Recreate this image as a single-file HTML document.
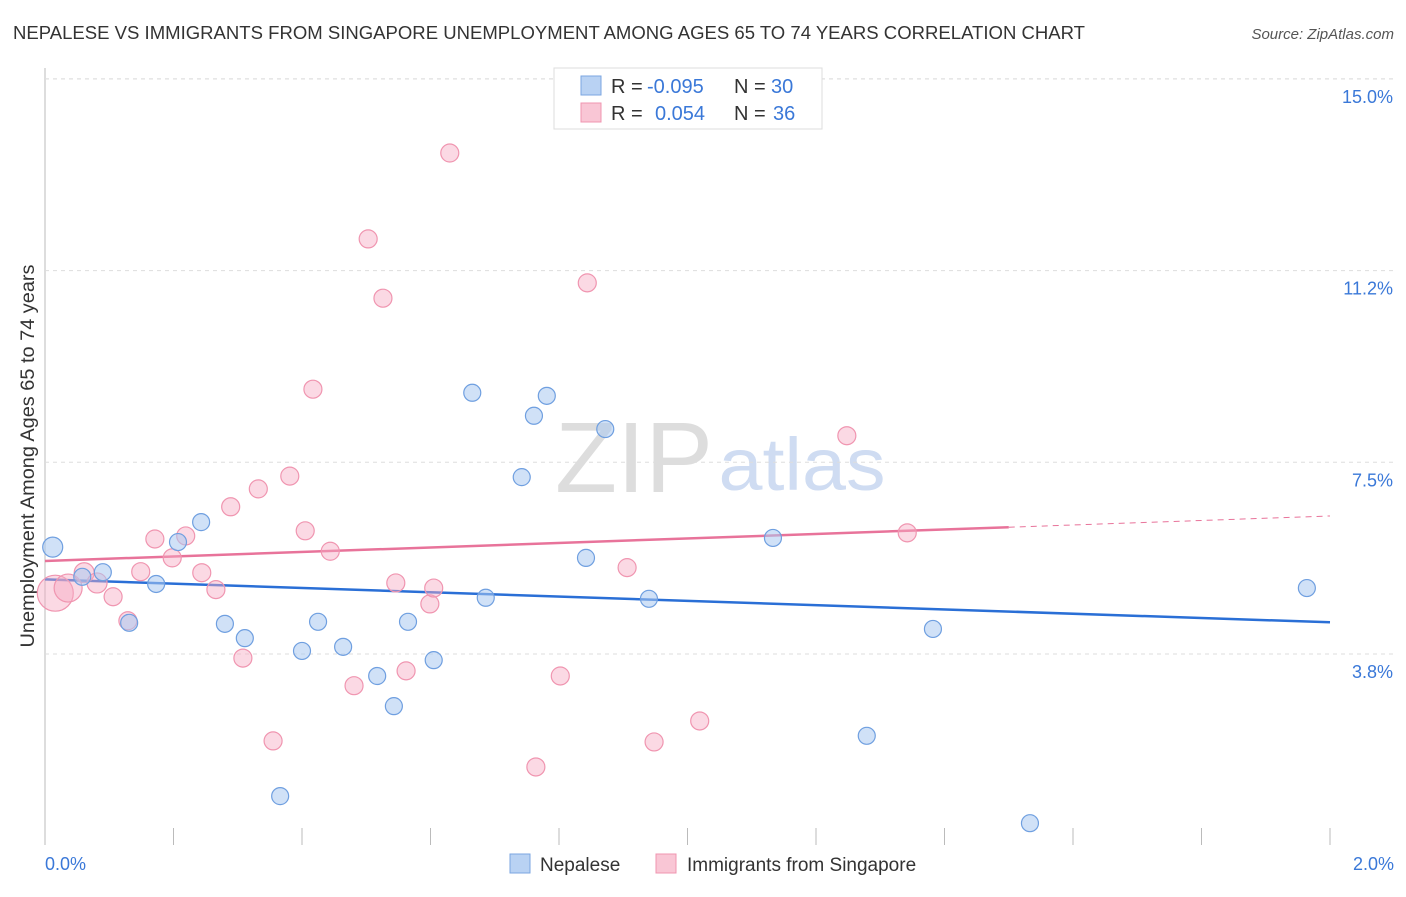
<!DOCTYPE html>
<html><head><meta charset="utf-8"><style>
body{margin:0;background:#fff;font-family:"Liberation Sans",sans-serif;}
svg text{font-family:"Liberation Sans",sans-serif;}
</style></head><body>
<svg id="chart" width="1406" height="892" xmlns="http://www.w3.org/2000/svg">
<text x="13" y="39" font-size="18" fill="#333" textLength="1072" lengthAdjust="spacingAndGlyphs">NEPALESE VS IMMIGRANTS FROM SINGAPORE UNEMPLOYMENT AMONG AGES 65 TO 74 YEARS CORRELATION CHART</text>
<text x="1394" y="39" font-size="15" fill="#555" text-anchor="end" font-style="italic">Source: ZipAtlas.com</text>
<g>
<text x="634" y="492" font-size="100" fill="#ddd" text-anchor="middle" font-family="Liberation Serif" textLength="158" lengthAdjust="spacingAndGlyphs">ZIP</text>
<text x="802" y="490" font-size="74" fill="#cfdcf2" text-anchor="middle" textLength="167" lengthAdjust="spacingAndGlyphs">atlas</text>
</g>
<text transform="translate(34,456) rotate(-90)" font-size="19" fill="#333" text-anchor="middle" textLength="383" lengthAdjust="spacingAndGlyphs">Unemployment Among Ages 65 to 74 years</text>
<line x1="45" y1="68" x2="45" y2="845" stroke="#bbb"/>
<g id="grid"></g><g id="ticks"></g><g id="lines"></g><g id="pts"></g>
<text x="45" y="870" font-size="18" fill="#3a78d8">0.0%</text>
<text x="1394" y="870" font-size="18" fill="#3a78d8" text-anchor="end">2.0%</text>
<g>
<rect x="554" y="68" width="268" height="61" fill="#fff" stroke="#ddd"/>
<rect x="581" y="76" width="20" height="19" fill="#b9d2f3" stroke="#7ba6e0"/>
<rect x="581" y="103" width="20" height="19" fill="#f9c6d5" stroke="#f095b0"/>
<text x="611" y="93" font-size="20" fill="#333">R = </text><text x="647" y="93" font-size="20" fill="#3a78d8">-0.095</text>
<text x="734" y="93" font-size="20" fill="#333">N = </text><text x="771" y="93" font-size="20" fill="#3a78d8">30</text>
<text x="611" y="120" font-size="20" fill="#333">R = </text><text x="655" y="120" font-size="20" fill="#3a78d8">0.054</text>
<text x="734" y="120" font-size="20" fill="#333">N = </text><text x="773" y="120" font-size="20" fill="#3a78d8">36</text>
</g>
<g>
<rect x="510" y="854" width="20" height="19" fill="#b9d2f3" stroke="#7ba6e0"/>
<text x="540" y="871" font-size="19" fill="#333">Nepalese</text>
<rect x="656" y="854" width="20" height="19" fill="#f9c6d5" stroke="#f095b0"/>
<text x="687" y="871" font-size="19" fill="#333">Immigrants from Singapore</text>
</g>
</svg>
<script>
const yTicks=[3.75,7.5,11.25,15];
const yTickLabels=["3.8%","7.5%","11.2%","15.0%"];
const blueX=[0.012,0.058,0.090,0.131,0.173,0.207,0.243,0.280,0.311,0.366,0.400,0.425,0.464,0.517,0.543,0.565,0.605,0.665,0.686,0.742,0.761,0.781,0.842,0.872,0.940,1.133,1.279,1.382,1.533,1.964];
const blueY=[5.84,5.26,5.35,4.36,5.12,5.94,6.33,4.34,4.06,0.97,3.81,4.38,3.89,3.32,2.73,4.38,3.63,8.86,4.85,7.21,8.41,8.80,5.63,8.15,4.83,6.02,2.15,4.24,0.44,5.04];
const pinkX=[0.016,0.036,0.061,0.081,0.106,0.129,0.149,0.171,0.198,0.219,0.244,0.266,0.289,0.308,0.332,0.355,0.381,0.405,0.417,0.444,0.481,0.503,0.526,0.546,0.562,0.599,0.605,0.630,0.764,0.802,0.844,0.906,0.948,1.019,1.248,1.342];
const pinkY=[4.94,5.04,5.34,5.14,4.87,4.40,5.36,6.00,5.63,6.06,5.34,5.01,6.63,3.67,6.98,2.05,7.23,6.16,8.93,5.76,3.13,11.87,10.71,5.14,3.42,4.73,5.04,13.55,1.54,3.32,11.01,5.44,2.03,2.44,8.02,6.12];
const pinkR=[18,14,10,10,9,9,9,9,9,9,9,9,9,9,9,9,9,9,9,9,9,9,9,9,9,9,9,9,9,9,9,9,9,9,9,9];
const blueTrend=[5.21,-0.42];
const pinkTrend=[5.57,0.44];
const NS="http://www.w3.org/2000/svg";
const sx=v=>45+v/2*1285;
const sy=v=>845.7-v*51.12;
function mk(t,a,p){const e=document.createElementNS(NS,t);for(const k in a)e.setAttribute(k,a[k]);p.appendChild(e);return e;}
const grid=document.getElementById('grid');
mk('line',{x1:45,x2:1394,y1:sy(15),y2:sy(15),stroke:'#ddd','stroke-dasharray':'4,4'},grid);
yTicks.forEach((t,i)=>{
 const l=mk('line',{x1:45,x2:1394,y1:sy(t),y2:sy(t),stroke:'#ddd','stroke-dasharray':'4,4'},grid);
 
 
 const tx=mk('text',{x:1393,y:sy(t)+24,'font-size':18,fill:'#3a78d8','text-anchor':'end'},grid);
 tx.textContent=yTickLabels[i];
 
 
});
const ticks=document.getElementById('ticks');
for(let i=0;i<=10;i++){
 const l=mk('line',{x1:sx(i*0.2),x2:sx(i*0.2),y1:828,y2:845,stroke:'#bbb'},ticks);
 
 
}
const lines=document.getElementById('lines');
let bl=mk('line',{x1:sx(0),y1:sy(blueTrend[0]),x2:sx(2),y2:sy(blueTrend[0]+2*blueTrend[1]),stroke:'#2a6fd6','stroke-width':2.5},lines);


let pl=mk('line',{x1:sx(0),y1:sy(pinkTrend[0]),x2:sx(1.5),y2:sy(pinkTrend[0]+1.5*pinkTrend[1]),stroke:'#e8739a','stroke-width':2.5},lines);


let pd=mk('line',{x1:sx(1.5),y1:sy(pinkTrend[0]+1.5*pinkTrend[1]),x2:sx(2),y2:sy(pinkTrend[0]+2*pinkTrend[1]),stroke:'#e8739a','stroke-width':1,'stroke-dasharray':'6,5'},lines);


const pts=document.getElementById('pts');
pinkX.forEach((x,i)=>{
 const c=mk('circle',{cx:sx(x),cy:sy(pinkY[i]),r:pinkR[i],fill:'rgba(246,170,195,0.45)',stroke:'#f095b0','stroke-width':1.2},pts);
 
 
});
blueX.forEach((x,i)=>{
 const c=mk('circle',{cx:sx(x),cy:sy(blueY[i]),r:i==0?10:8.5,fill:'rgba(170,200,240,0.55)',stroke:'#6f9fe0','stroke-width':1.2},pts);
 
 
});
</script>
</body></html>
